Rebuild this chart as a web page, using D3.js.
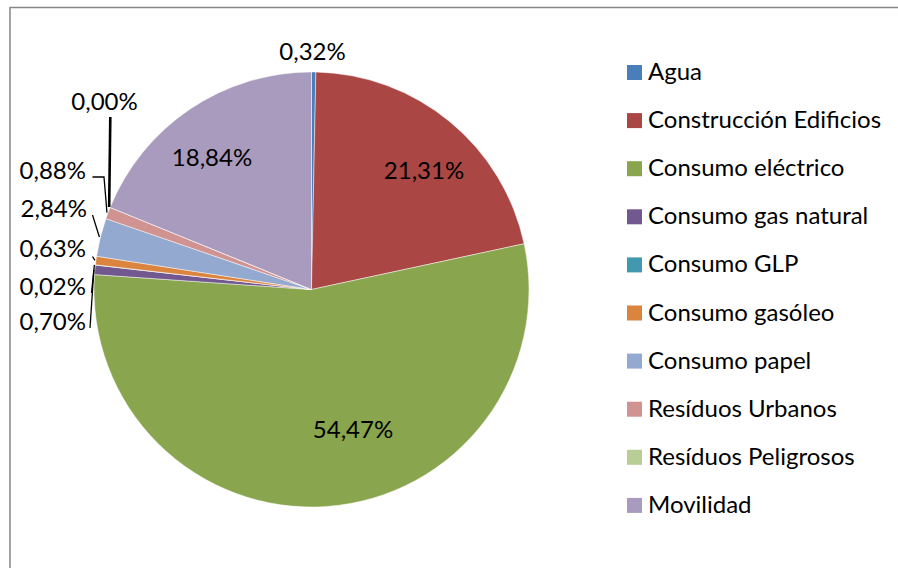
<!DOCTYPE html>
<html>
<head>
<meta charset="utf-8">
<script src="https://cdn.jsdelivr.net/npm/d3@7"></script>
<style>
  html, body { margin: 0; padding: 0; background: #fff; }
  svg { display: block; }
  text { font-family: Lato, "Open Sans", sans-serif; fill: #000; }
</style>
</head>
<body>
<svg id="chart" width="898" height="568"></svg>
<script>
// ---- Data ----
const categories = ["Agua", "Construcción Edificios", "Consumo eléctrico", "Consumo gas natural",
  "Consumo GLP", "Consumo gasóleo", "Consumo papel", "Resíduos Urbanos", "Resíduos Peligrosos", "Movilidad"];
const values = [0.32, 21.31, 54.47, 0.70, 0.02, 0.63, 2.84, 0.88, 0.00, 18.84];
const labels = ["0,32%", "21,31%", "54,47%", "0,70%", "0,02%", "0,63%", "2,84%", "0,88%", "0,00%", "18,84%"];
const colors = ["#4A7EBB", "#AA4643", "#89A54E", "#71588F", "#4198AF", "#DB843D", "#93A9CF", "#D19392", "#B9CD96", "#A99BBD"];

// ---- Layout (label anchors & leader starts, not data) ----
const cx = 311.5, cy = 289.5, R = 217.5;
const labelLayout = [
  { x: 312.5, y: 60, anchor: "middle" },
  { x: 424, y: 179, anchor: "middle" },
  { x: 353, y: 438, anchor: "middle" },
  { x: 86, y: 330, anchor: "end", lead: [[90, 328]] },
  { x: 86, y: 295, anchor: "end", lead: [[91.5, 293]] },
  { x: 86, y: 257, anchor: "end", lead: [[92.5, 256.5]] },
  { x: 87, y: 217, anchor: "end", lead: [[92.5, 215]] },
  { x: 86, y: 179, anchor: "end", lead: [[92.5, 177], [104, 177]] },
  { x: 104.5, y: 110, anchor: "middle", lead: [[110.3, 117]], width: 2.6 },
  { x: 212, y: 166, anchor: "middle" }
];
const fontSize = "24px";

const svg = d3.select("#chart");

// frame
svg.append("rect").attr("x", 10).attr("y", 7.5).attr("width", 1000).attr("height", 1000)
  .attr("fill", "none").attr("stroke", "#868686").attr("stroke-width", 1.5);

const data = categories.map((c, i) => ({ name: c, value: values[i], color: colors[i], label: labels[i], i }));

const pie = d3.pie().value(d => d.value).sort(null).startAngle(0).endAngle(2 * Math.PI);
const arcs = pie(data);
const arc = d3.arc().innerRadius(0).outerRadius(R);

const g = svg.append("g").attr("transform", `translate(${cx},${cy})`);
g.selectAll("path.slice").data(arcs).enter().append("path")
  .attr("class", "slice")
  .attr("d", arc)
  .attr("fill", d => d.data.color)
  .attr("stroke", "#ffffff").attr("stroke-width", 0.6).attr("stroke-opacity", 0.8);

// leader lines
arcs.forEach((a, i) => {
  const L = labelLayout[i];
  if (!L.lead) return;
  const mid = (a.startAngle + a.endAngle) / 2;
  const end = [cx + (R + 1) * Math.sin(mid), cy - (R + 1) * Math.cos(mid)];
  const pts = L.lead.concat([end]);
  svg.append("path")
    .attr("d", d3.line()(pts))
    .attr("fill", "none").attr("stroke", "#000").attr("stroke-width", L.width || 1.3);
});

// data labels
svg.selectAll("text.lbl").data(arcs).enter().append("text")
  .attr("class", "lbl")
  .attr("x", (d, i) => labelLayout[i].x)
  .attr("y", (d, i) => labelLayout[i].y)
  .attr("text-anchor", (d, i) => labelLayout[i].anchor)
  .style("font-size", fontSize)
  .text(d => d.data.label);

// legend
const legend = svg.append("g").attr("transform", "translate(627,65)");
const rowH = 48.1;
const items = legend.selectAll("g").data(data).enter().append("g")
  .attr("transform", (d, i) => `translate(0,${i * rowH})`);
items.append("rect").attr("width", 15).attr("height", 15).attr("fill", d => d.color);
items.append("text").attr("x", 21).attr("y", 15).style("font-size", fontSize).text(d => d.name);
</script>
</body>
</html>
